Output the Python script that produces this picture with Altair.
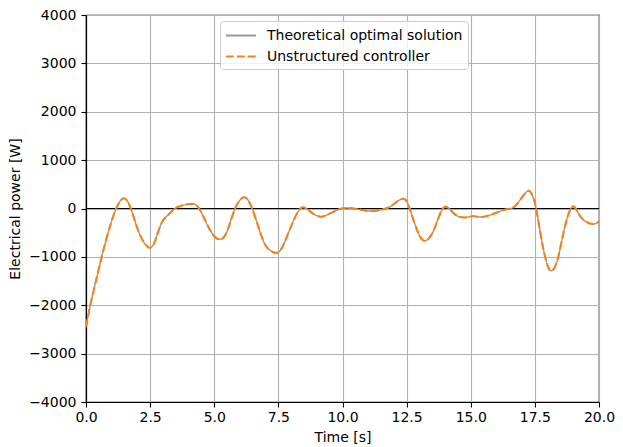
import altair as alt
import pandas as pd

# Values
time_s = [0.0, 0.18, 0.44, 0.63, 0.82, 1.01, 1.21, 1.46, 1.72, 1.98, 2.24, 2.47, 2.68, 2.94,
          3.20, 3.55, 4.06, 4.38, 4.70, 4.96, 5.19, 5.47, 5.79, 6.18, 6.50, 6.76, 7.01, 7.31,
          7.59, 7.91, 8.23, 8.47, 8.75, 9.13, 9.52, 9.90, 10.16, 10.55, 11.13, 11.77, 12.09,
          12.34, 12.54, 12.79, 12.99, 13.21, 13.50, 13.76, 13.98, 14.21, 14.46, 14.80, 15.10,
          15.43, 15.94, 16.39, 16.77, 17.20, 17.42, 17.55, 17.74, 17.93, 18.13, 18.38, 18.64,
          18.96, 19.28, 19.73, 20.0]
power_w = [-2450, -1970, -1380, -960, -580, -240, 37, 210, 37, -376, -686, -810, -686, -306,
           -134, 25, 93, 25, -306, -548, -635, -513, -31, 231, -31, -444, -770, -905,
           -857, -479, -100, 25, -65, -169, -100, -10, 10, -10, -52, 17, 128,
           200, 107, -273, -548, -668, -513, -169, 30, -31, -150, -185, -160,
           -175, -100, -17, 72, 355, 244, 0, -583, -1064, -1288, -1064, -444,
           37, -169, -320, -265]

series_names = ["Theoretical optimal solution", "Unstructured controller"]
series_colors = ["#999999", "#ff7f0e"]
series_dashes = [[1, 0], [7.7, 3.3]]
x_ticks = [0, 2.5, 5, 7.5, 10, 12.5, 15, 17.5, 20]
y_ticks = [-4000, -3000, -2000, -1000, 0, 1000, 2000, 3000, 4000]

df = pd.concat([pd.DataFrame({"Time": time_s, "Power": power_w, "Series": name})
                for name in series_names], ignore_index=True)
zero_df = pd.DataFrame({"Power": [0]})

FONT = "DejaVu Sans"

legend = alt.Legend(title=None, orient="none", legendX=134, legendY=6)
color = alt.Color("Series:N", scale=alt.Scale(domain=series_names, range=series_colors),
                  legend=legend)
dash = alt.StrokeDash("Series:N", scale=alt.Scale(domain=series_names, range=series_dashes),
                      legend=legend)

x = alt.X("Time:Q", scale=alt.Scale(domain=[0, 20], nice=False),
          axis=alt.Axis(values=x_ticks, format=".1f", title="Time [s]",
                        labelPadding=3, titlePadding=6))
y = alt.Y("Power:Q", scale=alt.Scale(domain=[-4000, 4000], nice=False),
          axis=alt.Axis(values=y_ticks, format="d", title="Electrical power [W]",
                        labelPadding=5, titlePadding=6))

zero_line = alt.Chart(zero_df).mark_rule(color="black", strokeWidth=1.2).encode(y=y)

theory = alt.Chart(df).transform_filter(
    alt.datum.Series == series_names[0]
).mark_line(strokeWidth=1.4, interpolate="natural").encode(x=x, y=y, color=color, strokeDash=dash)

ctrl = alt.Chart(df).transform_filter(
    alt.datum.Series == series_names[1]
).mark_line(strokeWidth=2.1, interpolate="natural").encode(x=x, y=y, color=color, strokeDash=dash)

chart = alt.layer(zero_line, theory, ctrl).properties(
    width=513, height=387,
    autosize=alt.AutoSizeParams(type="none"),
    padding={"left": 78, "top": 7, "right": 16, "bottom": 46},
).configure_view(
    stroke="black", strokeWidth=1.2
).configure_axis(
    labelFont=FONT, labelFontSize=14, labelColor="black",
    titleFont=FONT, titleFontSize=14, titleFontWeight="normal", titleColor="black",
    tickSize=5, tickColor="black", tickWidth=1.1,
    domainColor="black", domainWidth=1.2,
    gridColor="#b0b0b0", gridWidth=1.1,
    labelFlush=False, labelOverlap=False,
).configure_legend(
    symbolType="M-1,0H2.53", symbolSize=289, symbolStrokeWidth=2,
    labelFont=FONT, labelFontSize=14, labelColor="black", labelOffset=23, labelLimit=400,
    padding=5, rowPadding=4, strokeColor="#cccccc", strokeWidth=1,
    fillColor="rgba(255,255,255,0.8)", cornerRadius=3,
)

chart.save("out.html", embed_options={"renderer": "svg", "actions": False})
